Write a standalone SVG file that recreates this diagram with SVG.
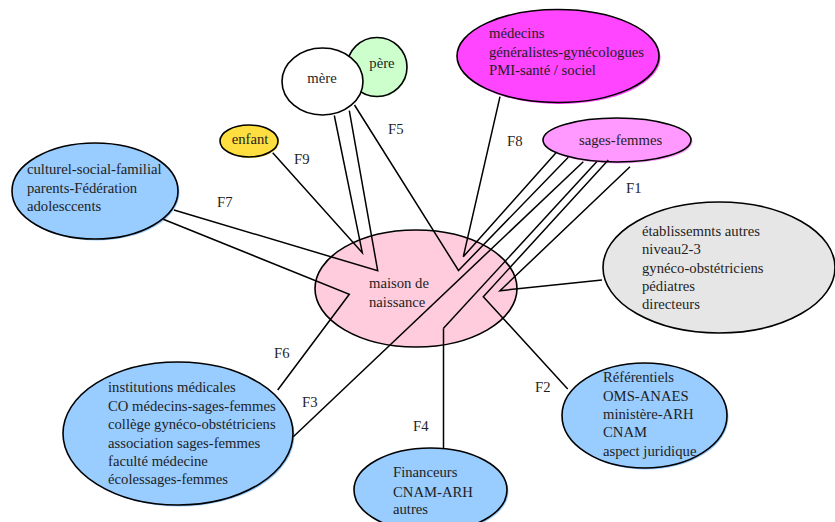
<svg xmlns="http://www.w3.org/2000/svg" width="835" height="522" viewBox="0 0 835 522">
  <defs>
    <style>
      .node { stroke: #000; stroke-width: 1.6; }
      .halo { stroke: none; }
      .lbl { font-family: "Liberation Serif", "Times New Roman", serif; font-size: 14.7px; fill: #1e1e1e; }
      .flow { font-family: "Liberation Serif", "Times New Roman", serif; font-size: 14.7px; fill: #1e1e1e; }
      .link { fill: none; stroke: #000; stroke-width: 1.5; stroke-linejoin: miter; }
      .blue { fill: #99ccff; }
    </style>
  </defs>
  <rect width="835" height="522" fill="#ffffff"/>

  <!-- nodes -->
  <g id="pere">
    <ellipse class="halo" cx="378" cy="68" rx="30" ry="29.5" fill="#ccffcc"/>
    <ellipse class="node" cx="377" cy="67" rx="30" ry="29.5" fill="#ccffcc"/>
    <text class="lbl" x="382" y="68" text-anchor="middle">père</text>
  </g>
  <g id="mere">
    <ellipse class="node" cx="322.5" cy="81.5" rx="40.5" ry="33.5" fill="#ffffff"/>
    <text class="lbl" x="322" y="83" text-anchor="middle">mère</text>
  </g>
  <g id="enfant">
    <ellipse class="halo" cx="250" cy="142" rx="29" ry="16" fill="#ffdf40"/>
    <ellipse class="node" cx="249" cy="141" rx="29" ry="16" fill="#ffdf40"/>
    <text class="lbl" x="250" y="144" text-anchor="middle">enfant</text>
  </g>
  <g id="medecins">
    <ellipse class="halo" cx="559.5" cy="57.5" rx="101" ry="46.5" fill="#ff45ff"/>
    <ellipse class="node" cx="558" cy="56" rx="101" ry="46.5" fill="#ff45ff"/>
    <text class="lbl" x="489" y="38">médecins</text>
    <text class="lbl" x="489" y="57">généralistes-gynécologues</text>
    <text class="lbl" x="489" y="75">PMI-santé / sociel</text>
  </g>
  <g id="sages-femmes">
    <ellipse class="halo" cx="618.5" cy="141.5" rx="74" ry="22" fill="#ff99ff"/>
    <ellipse class="node" cx="617" cy="140" rx="74" ry="22" fill="#ff99ff"/>
    <text class="lbl" x="579" y="145">sages-femmes</text>
  </g>
  <g id="culturel">
    <ellipse class="halo blue" cx="96.5" cy="192.5" rx="83" ry="48"/>
    <ellipse class="node blue" cx="95" cy="191" rx="83" ry="48"/>
    <text class="lbl" x="27" y="174">culturel-social-familial</text>
    <text class="lbl" x="27" y="192.5">parents-Fédération</text>
    <text class="lbl" x="27" y="211">adolesccents</text>
  </g>
  <g id="etablissements">
    <ellipse class="node" cx="719" cy="267.5" rx="116" ry="65.5" fill="#e6e6e6"/>
    <text class="lbl" x="642" y="236">établissemnts autres</text>
    <text class="lbl" x="642" y="254">niveau2-3</text>
    <text class="lbl" x="642" y="272.5">gynéco-obstétriciens</text>
    <text class="lbl" x="642" y="291">pédiatres</text>
    <text class="lbl" x="642" y="309">directeurs</text>
  </g>
  <g id="maison">
    <ellipse class="node" cx="416" cy="288.5" rx="101" ry="58.5" fill="#ffccdd"/>
    <text class="lbl" x="369" y="288">maison de</text>
    <text class="lbl" x="369" y="307">naissance</text>
  </g>
  <g id="institutions">
    <ellipse class="halo blue" cx="179.5" cy="435" rx="115" ry="71.5"/>
    <ellipse class="node blue" cx="178" cy="433.5" rx="115" ry="71.5"/>
    <text class="lbl" x="108" y="392">institutions médicales</text>
    <text class="lbl" x="108" y="411">CO médecins-sages-femmes</text>
    <text class="lbl" x="108" y="429">collège gynéco-obstétriciens</text>
    <text class="lbl" x="108" y="447.5">association sages-femmes</text>
    <text class="lbl" x="108" y="466">faculté médecine</text>
    <text class="lbl" x="108" y="484">écolessages-femmes</text>
  </g>
  <g id="financeurs">
    <ellipse class="halo blue" cx="432" cy="491.5" rx="76.5" ry="42"/>
    <ellipse class="node blue" cx="430.5" cy="490" rx="76.5" ry="42"/>
    <text class="lbl" x="393" y="477">Financeurs</text>
    <text class="lbl" x="393" y="496.5">CNAM-ARH</text>
    <text class="lbl" x="393" y="514">autres</text>
  </g>
  <g id="referentiels">
    <ellipse class="halo blue" cx="646" cy="417" rx="82.5" ry="52.5"/>
    <ellipse class="node blue" cx="644.5" cy="415.5" rx="82.5" ry="52.5"/>
    <text class="lbl" x="603" y="381.5">Référentiels</text>
    <text class="lbl" x="603" y="400.5">OMS-ANAES</text>
    <text class="lbl" x="603" y="419">ministère-ARH</text>
    <text class="lbl" x="603" y="437">CNAM</text>
    <text class="lbl" x="603" y="455.5">aspect juridique</text>
  </g>

  <!-- connectors -->
  <g id="connectors">
    <polyline class="link" points="272.7,152.7 362.3,252.7 334.3,115.5"/>
    <polyline class="link" points="174,210 377.7,270.7 349.3,110.7"/>
    <polyline class="link" points="354.5,105 458.5,270.5 568.3,157.3"/>
    <polyline class="link" points="500,96.7 463.3,256.7 556.7,152"/>
    <polyline class="link" points="163.3,219.3 349.3,294.3 277.7,390"/>
    <polyline class="link" points="583.3,161.7 293.3,436.7"/>
    <polyline class="link" points="596.7,161.7 443.5,328.3"/>
    <line class="link" x1="443.5" y1="328.3" x2="443.5" y2="449" stroke-width="2.2"/>
    <polyline class="link" points="608.3,160 483.3,296.7 567.7,389"/>
    <polyline class="link" points="630,166.7 500,290.7 602,280"/>
  </g>

  <!-- flow labels -->
  <g id="flow-labels">
    <text class="flow" x="388" y="134">F5</text>
    <text class="flow" x="294" y="164">F9</text>
    <text class="flow" x="507" y="146">F8</text>
    <text class="flow" x="626" y="193">F1</text>
    <text class="flow" x="217" y="207">F7</text>
    <text class="flow" x="274" y="358">F6</text>
    <text class="flow" x="302" y="407">F3</text>
    <text class="flow" x="413" y="431">F4</text>
    <text class="flow" x="535" y="392">F2</text>
  </g>
</svg>
